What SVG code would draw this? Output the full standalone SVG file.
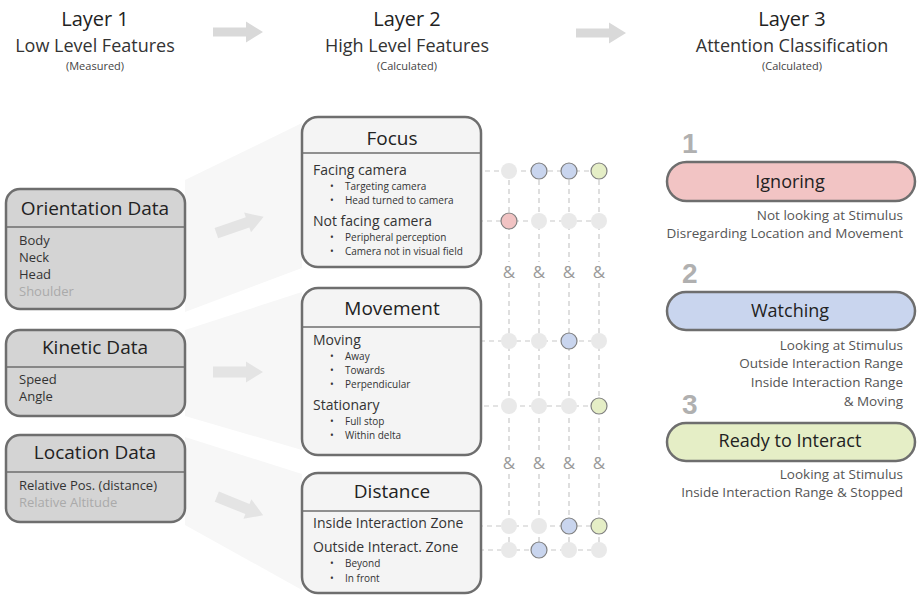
<svg xmlns="http://www.w3.org/2000/svg" width="917" height="596" viewBox="0 0 917 596">
<defs>
<style>
text{font-family:"Open Sans","Noto Sans","Liberation Sans",sans-serif;}
.h1{font-size:20px;fill:#222;text-anchor:middle;}
.h2{font-size:18px;fill:#333;text-anchor:middle;}
.h3{font-size:11px;fill:#444;text-anchor:middle;}
.lbox{fill:#d4d4d4;stroke:#6e6e6e;stroke-width:2.5;}
.mbox{fill:#f4f4f4;stroke:#6e6e6e;stroke-width:2.5;}
.div{stroke:#6e6e6e;stroke-width:1.5;}
.t1{font-size:19px;fill:#222;text-anchor:middle;}
.it{font-size:13px;fill:#333;}
.itg{font-size:13px;fill:#aaa;}
.ft{font-size:14px;fill:#333;}
.bt{font-size:10px;fill:#333;}
.funnel{fill:#f7f7f7;}
.sarr{fill:#e4e4e4;}
.harr{fill:#d9d9d9;}
.dash{stroke:#c8c8c8;stroke-width:1.2;stroke-dasharray:5,4;fill:none;}
.off{fill:#e9e9e9;}
.on{stroke:#808080;stroke-width:1.2;}
.amp{font-size:17px;fill:#999;text-anchor:middle;}
.num{font-family:"Liberation Sans",Arial,sans-serif;font-weight:bold;font-size:28px;fill:#b0b0b0;}
.pill{stroke:#6e6e6e;stroke-width:2.5;}
.pt{font-size:18px;fill:#222;text-anchor:middle;}
.desc{font-size:13.5px;fill:#555;text-anchor:end;}
</style>
<path id="arr" d="M-25,-5.5 L8,-5.5 L8,-10.5 L25,0 L8,10.5 L8,5.5 L-25,5.5 Z"/>
<path id="harrow" d="M-25,-4.5 L8,-4.5 L8,-10.5 L25,0 L8,10.5 L8,4.5 L-25,4.5 Z"/>
</defs>
<rect width="917" height="596" fill="#ffffff"/>

<g id="headers">
<text class="h1" x="95" y="26">Layer 1</text>
<text class="h2" x="95" y="52">Low Level Features</text>
<text class="h3" x="95" y="70">(Measured)</text>
<text class="h1" x="407" y="26">Layer 2</text>
<text class="h2" x="407" y="52">High Level Features</text>
<text class="h3" x="407" y="70">(Calculated)</text>
<text class="h1" x="792" y="26">Layer 3</text>
<text class="h2" x="792" y="52">Attention Classification</text>
<text class="h3" x="792" y="70">(Calculated)</text>
<use href="#harrow" class="harr" transform="translate(238,32)"/>
<use href="#harrow" class="harr" transform="translate(601,33)"/>
</g>

<g id="funnels">
<polygon class="funnel" points="185,180 302,123 302,268 185,312"/>
<polygon class="funnel" points="185,330 302,292 302,450 185,416"/>
<polygon class="funnel" points="185,437 302,474 302,590 185,525"/>
<use href="#arr" class="sarr" transform="translate(240,225) rotate(-19)"/>
<use href="#arr" class="sarr" transform="translate(238,372)"/>
<use href="#arr" class="sarr" transform="translate(240,506) rotate(22)"/>
</g>

<g id="orientation">
<rect class="lbox" x="6" y="189" width="179" height="120" rx="14"/>
<line class="div" x1="7" y1="227" x2="184" y2="227"/>
<text class="t1" x="95" y="215">Orientation Data</text>
<text class="it" x="19" y="245">Body</text>
<text class="it" x="19" y="262">Neck</text>
<text class="it" x="19" y="279">Head</text>
<text class="itg" x="19" y="296">Shoulder</text>
</g>

<g id="kinetic">
<rect class="lbox" x="6" y="330" width="179" height="86" rx="14"/>
<line class="div" x1="7" y1="367" x2="184" y2="367"/>
<text class="t1" x="95" y="354">Kinetic Data</text>
<text class="it" x="19" y="384">Speed</text>
<text class="it" x="19" y="401">Angle</text>
</g>

<g id="location">
<rect class="lbox" x="6" y="435" width="179" height="87" rx="14"/>
<line class="div" x1="7" y1="472" x2="184" y2="472"/>
<text class="t1" x="95" y="459">Location Data</text>
<text class="it" x="19" y="490">Relative Pos. (distance)</text>
<text class="itg" x="19" y="507">Relative Altitude</text>
</g>

<g id="connectors">
<line class="dash" x1="422" y1="171" x2="599" y2="171"/>
<line class="dash" x1="442" y1="221" x2="599" y2="221"/>
<line class="dash" x1="372" y1="341" x2="599" y2="341"/>
<line class="dash" x1="394" y1="406" x2="599" y2="406"/>
<line class="dash" x1="469" y1="526" x2="599" y2="526"/>
<line class="dash" x1="470" y1="550" x2="599" y2="550"/>
<path class="dash" d="M509,171 V262 M509,283 V453 M509,474 V550"/>
<path class="dash" d="M539,171 V262 M539,283 V453 M539,474 V550"/>
<path class="dash" d="M569,171 V262 M569,283 V453 M569,474 V550"/>
<path class="dash" d="M599,171 V262 M599,283 V453 M599,474 V550"/>
<text class="amp" x="509" y="278">&amp;</text>
<text class="amp" x="539" y="278">&amp;</text>
<text class="amp" x="569" y="278">&amp;</text>
<text class="amp" x="599" y="278">&amp;</text>
<text class="amp" x="509" y="469">&amp;</text>
<text class="amp" x="539" y="469">&amp;</text>
<text class="amp" x="569" y="469">&amp;</text>
<text class="amp" x="599" y="469">&amp;</text>
<circle class="off" cx="509" cy="171" r="8"/>
<circle class="on" cx="539" cy="171" r="8" fill="#c9d5ee"/>
<circle class="on" cx="569" cy="171" r="8" fill="#c9d5ee"/>
<circle class="on" cx="599" cy="171" r="8" fill="#e5eec6"/>
<circle class="on" cx="509" cy="221" r="8" fill="#f1c3c3"/>
<circle class="off" cx="539" cy="221" r="8"/>
<circle class="off" cx="569" cy="221" r="8"/>
<circle class="off" cx="599" cy="221" r="8"/>
<circle class="off" cx="509" cy="341" r="8"/>
<circle class="off" cx="539" cy="341" r="8"/>
<circle class="on" cx="569" cy="341" r="8" fill="#c9d5ee"/>
<circle class="off" cx="599" cy="341" r="8"/>
<circle class="off" cx="509" cy="406" r="8"/>
<circle class="off" cx="539" cy="406" r="8"/>
<circle class="off" cx="569" cy="406" r="8"/>
<circle class="on" cx="599" cy="406" r="8" fill="#e5eec6"/>
<circle class="off" cx="509" cy="526" r="8"/>
<circle class="off" cx="539" cy="526" r="8"/>
<circle class="on" cx="569" cy="526" r="8" fill="#c9d5ee"/>
<circle class="on" cx="599" cy="526" r="8" fill="#e5eec6"/>
<circle class="off" cx="509" cy="550" r="8"/>
<circle class="on" cx="539" cy="550" r="8" fill="#c9d5ee"/>
<circle class="off" cx="569" cy="550" r="8"/>
<circle class="off" cx="599" cy="550" r="8"/>
</g>

<g id="focus">
<rect class="mbox" x="302" y="117" width="179" height="150" rx="16"/>
<line class="div" x1="303" y1="153" x2="480" y2="153"/>
<text class="t1" x="392" y="145">Focus</text>
<text class="ft" x="313" y="175">Facing camera</text>
<text class="bt" x="330" y="190">•</text><text class="bt" x="345" y="190">Targeting camera</text>
<text class="bt" x="330" y="204">•</text><text class="bt" x="345" y="204">Head turned to camera</text>
<text class="ft" x="313" y="226">Not facing camera</text>
<text class="bt" x="330" y="241">•</text><text class="bt" x="345" y="241">Peripheral perception</text>
<text class="bt" x="330" y="255">•</text><text class="bt" x="345" y="255">Camera not in visual field</text>
</g>

<g id="movement">
<rect class="mbox" x="302" y="288" width="179" height="167" rx="16"/>
<line class="div" x1="303" y1="327" x2="480" y2="327"/>
<text class="t1" x="392" y="315">Movement</text>
<text class="ft" x="313" y="345">Moving</text>
<text class="bt" x="330" y="360">•</text><text class="bt" x="345" y="360">Away</text>
<text class="bt" x="330" y="374">•</text><text class="bt" x="345" y="374">Towards</text>
<text class="bt" x="330" y="388">•</text><text class="bt" x="345" y="388">Perpendicular</text>
<text class="ft" x="313" y="410">Stationary</text>
<text class="bt" x="330" y="425">•</text><text class="bt" x="345" y="425">Full stop</text>
<text class="bt" x="330" y="439">•</text><text class="bt" x="345" y="439">Within delta</text>
</g>

<g id="distance">
<rect class="mbox" x="302" y="473" width="179" height="120" rx="16"/>
<line class="div" x1="303" y1="511" x2="480" y2="511"/>
<text class="t1" x="392" y="498">Distance</text>
<text class="ft" x="313" y="528">Inside Interaction Zone</text>
<text class="ft" x="313" y="552">Outside Interact. Zone</text>
<text class="bt" x="330" y="567">•</text><text class="bt" x="345" y="567">Beyond</text>
<text class="bt" x="330" y="582">•</text><text class="bt" x="345" y="582">In front</text>
</g>

<g id="ignoring">
<text class="num" x="682" y="153">1</text>
<rect class="pill" x="667" y="162" width="248" height="39" rx="19.5" fill="#f2c4c4"/>
<text class="pt" x="790" y="188">Ignoring</text>
<text class="desc" x="903" y="220">Not looking at Stimulus</text>
<text class="desc" x="903" y="238">Disregarding Location and Movement</text>
</g>

<g id="watching">
<text class="num" x="682" y="283">2</text>
<rect class="pill" x="667" y="292" width="248" height="38" rx="19" fill="#c9d5ee"/>
<text class="pt" x="790" y="317">Watching</text>
<text class="desc" x="903" y="350">Looking at Stimulus</text>
<text class="desc" x="903" y="368">Outside Interaction Range</text>
<text class="desc" x="903" y="387">Inside Interaction Range</text>
<text class="desc" x="903" y="406">&amp; Moving</text>
</g>

<g id="ready">
<text class="num" x="682" y="414">3</text>
<rect class="pill" x="667" y="423" width="248" height="38" rx="19" fill="#e5eec6"/>
<text class="pt" x="790" y="447">Ready to Interact</text>
<text class="desc" x="903" y="479">Looking at Stimulus</text>
<text class="desc" x="903" y="497">Inside Interaction Range &amp; Stopped</text>
</g>
</svg>
